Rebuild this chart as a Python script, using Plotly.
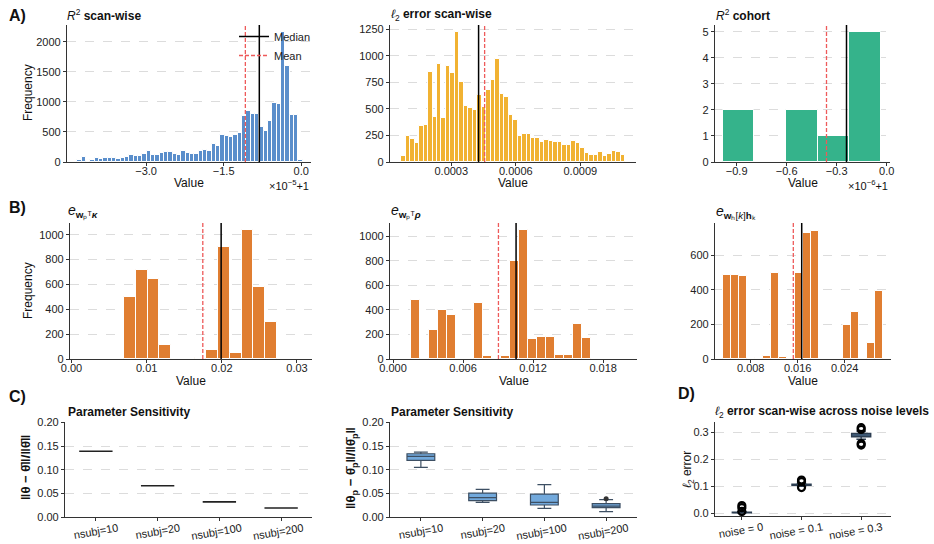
import plotly.graph_objects as go

W, H = 934, 544
FONT = "Liberation Sans, Arial, sans-serif"

# ---------------- DATA ----------------
# A1: R^2 scan-wise, x in units of 1e-5 with offset +1
a1_lo, a1_hi = -4.33, 0.03
a1_counts = [40, 78, 22, 39, 61, 50, 67, 67, 67, 50, 72, 89, 122, 106, 94, 128, 178, 117, 117, 156,
             161, 161, 133, 117, 189, 144, 139, 139, 183, 194, 183, 300, 267, 450, 439, 411, 444, 483,
             770, 845, 795, 795, 575, 510, 680, 985, 965, 2170, 1600, 790, 775, 40]
a1_median, a1_mean = -0.81, -1.08

# A2: l2 error scan-wise
a2_lo, a2_hi = 0.000067, 0.001108
a2_counts = [57, 249, 217, 176, 337, 350, 844, 425, 926, 412, 904, 841, 1222, 753, 526, 507, 494, 627,
             520, 677, 771, 973, 639, 614, 438, 394, 246, 261, 261, 224, 230, 189, 211, 198, 189, 189,
             157, 157, 198, 180, 129, 85, 66, 69, 91, 54, 72, 107, 91, 63]
a2_median, a2_mean = 0.000427, 0.000455

# A3: R^2 cohort, x in units of 1e-6 with offset +1
a3_lo, a3_hi = -0.985, -0.035
a3_counts = [2, 0, 2, 1, 5]
a3_median, a3_mean = -0.241, -0.361

# B1
b1_lo, b1_hi = 0.0070, 0.02733
b1_counts = [500, 715, 640, 115, 0, 0, 5, 75, 900, 45, 1035, 580, 300]
b1_median, b1_mean = 0.01991, 0.01747

# B2
b2_lo, b2_hi = 0.00152, 0.01694
b2_counts = [478, 5, 240, 397, 360, 0, 0, 460, 22, 0, 22, 795, 1050, 160, 180, 180, 35, 32, 282, 168]
b2_median, b2_mean = 0.01054, 0.00903

# B3
b3_lo, b3_hi = 0.003337, 0.03047
b3_counts = [485, 485, 483, 8, 0, 20, 500, 10, 0, 495, 730, 740, 0, 0, 0, 197, 272, 0, 90, 392]
b3_median, b3_mean = 0.01668, 0.01525

# C1 / C2: parameter sensitivity
c_cats = ["nsubj=10", "nsubj=20", "nsubj=100", "nsubj=200"]
c1_median = [0.139, 0.066, 0.032, 0.019]
c2_lowf = [0.1049, 0.0310, 0.0183, 0.0113]
c2_q1 = [0.1197, 0.0345, 0.0254, 0.0197]
c2_med = [0.1282, 0.0408, 0.0310, 0.0232]
c2_q3 = [0.1338, 0.0507, 0.0486, 0.0282]
c2_upf = [0.1373, 0.0585, 0.0683, 0.0366]
c2_out_cat = ["nsubj=200"]
c2_out_val = [0.0387]

# D: l2 error across noise levels
d_cats = ["noise = 0", "noise = 0.1", "noise = 0.3"]
d_lowf = [0.0, 0.100, 0.275]
d_q1 = [0.001, 0.103, 0.284]
d_med = [0.002, 0.105, 0.290]
d_q3 = [0.003, 0.107, 0.296]
d_upf = [0.005, 0.110, 0.305]
d_out_cat = ["noise = 0", "noise = 0", "noise = 0", "noise = 0.1", "noise = 0.1", "noise = 0.1",
             "noise = 0.3", "noise = 0.3", "noise = 0.3", "noise = 0.3"]
d_out_val = [0.028, 0.020, 0.006, 0.123, 0.117, 0.095, 0.318, 0.311, 0.259, 0.253]

# ---------------- LAYOUT HELPERS ----------------
def dom_x(a, b):
    return [a / W, b / W]

def dom_y(top, bot):
    return [1 - bot / H, 1 - top / H]

fig = go.Figure()
axis_common = dict(showline=True, linecolor="#333333", linewidth=1.2, ticks="outside", ticklen=3,
                   tickcolor="#333333", tickfont=dict(size=11, color="#222222", family=FONT),
                   zeroline=False, mirror=False, automargin=False)
grid_y = dict(showgrid=True, gridcolor="#dcdcdc", griddash="dash", gridwidth=0.8)

panels = {
    1: dict(x=(67, 311), y=(25, 162)),
    2: dict(x=(390, 636), y=(25, 162)),
    3: dict(x=(715, 890), y=(25, 162)),
    4: dict(x=(70, 312), y=(223, 359)),
    5: dict(x=(390, 637), y=(223, 359)),
    6: dict(x=(715, 891), y=(223, 359)),
    7: dict(x=(65, 312), y=(422, 517)),
    8: dict(x=(390, 637), y=(422, 517)),
    9: dict(x=(715, 891), y=(422, 516)),
}

layout = {}
for i, p in panels.items():
    xs = "xaxis" if i == 1 else f"xaxis{i}"
    ys = "yaxis" if i == 1 else f"yaxis{i}"
    layout[xs] = dict(domain=dom_x(*p["x"]), anchor=f"y{i if i > 1 else ''}", showgrid=False,
                      ticklabelstandoff=-4, **axis_common)
    layout[ys] = dict(domain=dom_y(*p["y"]), anchor=f"x{i if i > 1 else ''}", **grid_y, **axis_common)

shapes = []
annotations = []
MEAN_LINE = dict(color="#ee5a5a", width=1.3, dash="4px,2px")
MEDIAN_LINE = dict(color="black", width=1.5)

def hist(i, lo, hi, counts, color, median, mean):
    n = len(counts)
    w = (hi - lo) / n
    xs = [lo + (k + 0.5) * w for k in range(n)]
    ax = "" if i == 1 else str(i)
    fig.add_trace(go.Bar(x=xs, y=counts, width=w, marker=dict(color=color, line=dict(color="white", width=1)),
                         xaxis=f"x{ax}", yaxis=f"y{ax}", showlegend=False, hoverinfo="x+y"))
    shapes.append(dict(type="line", xref=f"x{ax}", yref=f"y{ax} domain", x0=mean, x1=mean, y0=0, y1=1,
                       line=MEAN_LINE, layer="above"))
    shapes.append(dict(type="line", xref=f"x{ax}", yref=f"y{ax} domain", x0=median, x1=median, y0=0, y1=1,
                       line=MEDIAN_LINE, layer="above"))

BLUE = "#5a8ecb"
YEL = "#f1b232"
GRN = "#35b38b"
ORG = "#e07e31"

hist(1, a1_lo, a1_hi, a1_counts, BLUE, a1_median, a1_mean)
hist(2, a2_lo, a2_hi, a2_counts, YEL, a2_median, a2_mean)
hist(3, a3_lo, a3_hi, a3_counts, GRN, a3_median, a3_mean)
hist(4, b1_lo, b1_hi, b1_counts, ORG, b1_median, b1_mean)
hist(5, b2_lo, b2_hi, b2_counts, ORG, b2_median, b2_mean)
hist(6, b3_lo, b3_hi, b3_counts, ORG, b3_median, b3_mean)

# legend entries (A1)
fig.add_trace(go.Scatter(x=[None], y=[None], mode="lines", line=MEDIAN_LINE,
                         name="Median", xaxis="x", yaxis="y"))
fig.add_trace(go.Scatter(x=[None], y=[None], mode="lines", line=MEAN_LINE,
                         name="Mean", xaxis="x", yaxis="y"))

# C1 boxes (collapsed)
fig.add_trace(go.Box(x=c_cats, q1=c1_median, median=c1_median, q3=c1_median, lowerfence=c1_median,
                     upperfence=c1_median, xaxis="x7", yaxis="y7", fillcolor="#5a8ecb",
                     line=dict(color="#222222", width=1.6), width=0.54, showlegend=False, boxpoints=False))
# C2 boxes
fig.add_trace(go.Box(x=c_cats, q1=c2_q1, median=c2_med, q3=c2_q3, lowerfence=c2_lowf, upperfence=c2_upf,
                     xaxis="x8", yaxis="y8", fillcolor="#72a9dc", line=dict(color="#3d4f63", width=1.2),
                     width=0.45, showlegend=False, boxpoints=False))
fig.add_trace(go.Scatter(x=c2_out_cat, y=c2_out_val, mode="markers", xaxis="x8", yaxis="y8",
                         marker=dict(color="#333333", size=5), showlegend=False))
# D boxes
fig.add_trace(go.Box(x=d_cats, q1=d_q1, median=d_med, q3=d_q3, lowerfence=d_lowf, upperfence=d_upf,
                     xaxis="x9", yaxis="y9", fillcolor="#72a9dc", line=dict(color="#2d3e52", width=1.4),
                     width=0.32, showlegend=False, boxpoints=False))
fig.add_trace(go.Scatter(x=d_out_cat, y=d_out_val, mode="markers", xaxis="x9", yaxis="y9",
                         marker=dict(color="black", size=7, symbol="circle-open",
                                     line=dict(color="black", width=2.2)), showlegend=False))

# axis specifics
layout["xaxis"].update(range=[-4.53, 0.19], tickvals=[-3.0, -1.5, 0.0], tickformat=".1f")
layout["yaxis"].update(range=[0, 2280], tickvals=[0, 500, 1000, 1500, 2000])
layout["xaxis2"].update(range=[0.000015, 0.001159], tickvals=[0.0003, 0.0006, 0.0009], tickformat=".4f")
layout["yaxis2"].update(range=[0, 1290], tickvals=[0, 250, 500, 750, 1000, 1250])
layout["xaxis3"].update(range=[-1.03, 0.02], tickvals=[-0.9, -0.6, -0.3, 0.0], tickformat=".1f")
layout["yaxis3"].update(range=[0, 5.26], tickvals=[0, 1, 2, 3, 4, 5])
layout["xaxis4"].update(range=[-0.0002, 0.032], tickvals=[0.0, 0.01, 0.02, 0.03], tickformat=".2f")
layout["yaxis4"].update(range=[0, 1094], tickvals=[0, 200, 400, 600, 800, 1000])
layout["xaxis5"].update(range=[-0.00026, 0.0209], tickvals=[0.0, 0.006, 0.012, 0.018], tickformat=".3f")
layout["yaxis5"].update(range=[0, 1108], tickvals=[0, 200, 400, 600, 800, 1000])
layout["xaxis6"].update(range=[0.00192, 0.03188], tickvals=[0.008, 0.016, 0.024], tickformat=".3f")
layout["yaxis6"].update(range=[0, 787], tickvals=[0, 200, 400, 600])
layout["xaxis7"].update(type="category", range=[-0.5, 3.5], tickangle=-10, ticklabelshift=22,
                        ticklabelstandoff=-3)
layout["yaxis7"].update(range=[0, 0.201], tickvals=[0, 0.05, 0.10, 0.15, 0.20], tickformat=".2f")
layout["xaxis8"].update(type="category", range=[-0.5, 3.5], tickangle=-10, ticklabelshift=22,
                        ticklabelstandoff=-3)
layout["yaxis8"].update(range=[0, 0.201], tickvals=[0, 0.05, 0.10, 0.15, 0.20], tickformat=".2f")
layout["xaxis9"].update(type="category", range=[-0.45, 2.5], tickangle=-10, ticklabelshift=21,
                        ticklabelstandoff=-3)
layout["yaxis9"].update(range=[-0.011, 0.339], tickvals=[0.0, 0.1, 0.2, 0.3], tickformat=".1f")

def ann(text, x, y, size=12, xanchor="left", yanchor="middle", **kw):
    annotations.append(dict(text=text, x=x / W, y=1 - y / H, xref="paper", yref="paper", showarrow=False,
                            xanchor=xanchor, yanchor=yanchor, font=dict(size=size, family=FONT, color="#111111"), **kw))

# panel letters
ann("<b>A)</b>", 7, 15, size=16)
ann("<b>B)</b>", 7, 207, size=16)
ann("<b>C)</b>", 7, 396, size=16)
ann("<b>D)</b>", 676, 393, size=16)

# titles
ann("<i>R</i><sup>2</sup> <b>scan-wise</b>", 65, 15)
ann("<i>ℓ</i><sub>2</sub> <b>error scan-wise</b>", 389, 15)
ann("<i>R</i><sup>2</sup> <b>cohort</b>", 714, 15)
ann("<i>e</i><sub><b>w</b>ₚᵀ<b><i>κ</i></b></sub>", 66, 212, size=14)
ann("<i>e</i><sub><b>w</b>ₚᵀ<b><i>ρ</i></b></sub>", 389, 212, size=14)
ann("<i>e</i><sub><b>w</b>ₕ[<i>k</i>]<b>h</b>ₖ</sub>", 714, 212, size=14)
ann("<b>Parameter Sensitivity</b>", 66, 412)
ann("<b>Parameter Sensitivity</b>", 389, 412)
ann("<i>ℓ</i><sub>2</sub> <b>error scan-wise across noise levels</b>", 713, 412)

# axis labels
for cx in [(67 + 311) / 2, (390 + 636) / 2, (715 + 890) / 2]:
    ann("Value", cx, 183, xanchor="center")
for cx in [(70 + 312) / 2, (390 + 637) / 2, (715 + 891) / 2]:
    ann("Value", cx, 381, xanchor="center")
ann("Frequency", 28, 93, xanchor="center", textangle=-90)
ann("Frequency", 28, 291, xanchor="center", textangle=-90)
ann("<b>‖θ − θ̄‖/‖θ̄‖</b>", 25, 468, size=13, xanchor="center", textangle=-90)
ann("<b>‖θ<sub>p</sub> − θ̄<sub>p</sub>‖/‖θ̄<sub>p</sub>‖</b>", 351, 468, size=13, xanchor="center", textangle=-90)
ann("<i>ℓ</i><sub>2</sub> error", 688, 470, xanchor="center", textangle=-90)

# offset texts
ann("×10<sup>−5</sup>+1", 311, 185, size=11, xanchor="right")
ann("×10<sup>−6</sup>+1", 890, 185, size=11, xanchor="right")

fig.update_layout(
    width=W, height=H, margin=dict(l=0, r=0, t=0, b=0, autoexpand=False),
    paper_bgcolor="white", plot_bgcolor="white",
    font=dict(family=FONT, size=11, color="#222222"),
    bargap=0, showlegend=True,
    legend=dict(x=234 / W, y=1 - 22 / H, xanchor="left", yanchor="top", bgcolor="rgba(0,0,0,0)",
                font=dict(size=11, family=FONT), itemwidth=30, tracegroupgap=0),
    shapes=shapes, annotations=annotations,
    **layout,
)

fig.write_html("out.html")
